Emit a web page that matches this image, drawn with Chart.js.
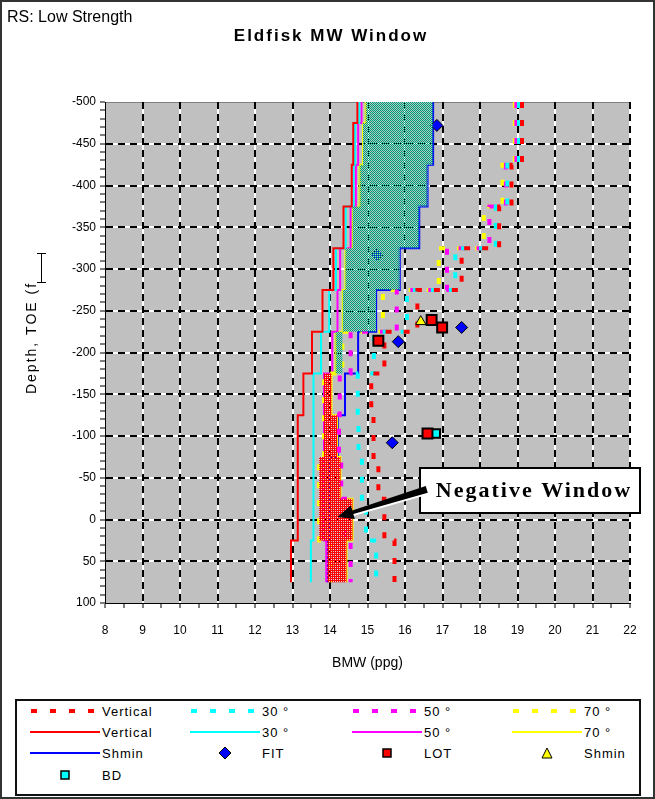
<!DOCTYPE html>
<html>
<head>
<meta charset="utf-8">
<script src="https://cdn.jsdelivr.net/npm/chart.js@4.4.1/dist/chart.umd.min.js"></script>
<style>
  html, body { margin: 0; padding: 0; background: #fff; }
  #wrap { position: relative; width: 655px; height: 799px; font-family: "Liberation Sans", Arial, sans-serif; }
  #frame { position: absolute; left: 0; top: 0; width: 655px; height: 799px; box-sizing: border-box; border: 2px solid #333; pointer-events: none; }
  #legend { position: absolute; left: 15px; top: 699px; width: 626px; height: 97px; box-sizing: border-box; border: 2px solid #111; background: #fff; }
  .item { position: absolute; height: 16px; display: flex; align-items: center; font-size: 13px; letter-spacing: 1px; color: #000; white-space: nowrap; }
  .item svg { margin-right: 2px; flex: none; }
</style>
</head>
<body>
<div id="wrap">
  <canvas id="mw-chart" width="655" height="799"></canvas>
  <div id="legend"></div>
  <div id="frame"></div>
</div>
<script>
const FONT = '"Liberation Sans", Arial, sans-serif';

// depth bands (ft TOE); every curve holds one value per band
const bandEdges = [-500, -475, -425, -375, -325, -275, -225, -175, -125, -75, -25, 25, 75];

// fracture gradients (dashed) per well inclination, ppg
const vertFrac  = [19.12, 19.12, 18.84, 18.51, 17.51, 16.33, 15.45, 15.10, 15.16, 15.29, 15.45, 15.72];
const deg30Frac = [19.04, 19.04, 18.73, 18.42, 17.34, 16.05, 15.17, 14.74, 14.76, 14.85, 14.96, 15.23];
const deg50Frac = [18.97, 18.97, 18.69, 18.25, 17.12, 15.78, 14.55, 14.26, 14.24, 14.30, 14.40, 14.55];
const deg70Frac = [18.93, 18.93, 18.60, 18.10, 16.90, 15.41, 14.33, 13.84, 13.84, 13.71, 13.71, 14.00];

// collapse gradients (solid) per well inclination, ppg
const vertCollapse  = [14.73, 14.62, 14.58, 14.36, 14.09, 13.80, 13.52, 13.29, 13.14, 13.14, 13.14, 12.96];
const deg30Collapse = [14.78, 14.67, 14.63, 14.42, 14.16, 13.98, 13.76, 13.56, 13.56, 13.56, 13.56, 13.49];
const deg50Collapse = [14.84, 14.75, 14.69, 14.55, 14.27, 14.20, 14.06, 13.84, 13.84, 13.84, 13.84, 13.90];
const deg70Collapse = [14.95, 14.88, 14.79, 14.60, 14.41, 14.34, 14.15, 14.04, 14.19, 14.28, 14.60, 14.44];

const shminCurve = [16.75, 16.75, 16.60, 16.38, 15.86, 15.23, 14.75, 14.40, 14.21, 14.00, 14.00, 13.93];

// field tests: x = EMW (ppg), y = depth
const fitX = [16.85, 15.25, 15.82, 17.51, 15.66];
const fitY = [-472, -317, -213, -230, -92];
const lotX = [15.29, 16.71, 16.99, 16.60];
const lotY = [-214, -239, -230, -103];
const shminTestX = [16.42];
const shminTestY = [-237];
const bdX = [16.82];
const bdY = [-103];

const xTicks = { min: 8, max: 22 };
const yTicks = { min: -500, max: 100 };

// callout arrow: tail (at the text box) and head, in chart units
const calloutTail = [16.58, -36];
const calloutHead = [14.2, -3];
const calloutText = "Negative Window";

function stepLine(vals) {
    const pts = [];
    vals.forEach((v, i) => pts.push({ x: v, y: bandEdges[i] }, { x: v, y: bandEdges[i + 1] }));
    return pts;
}

// closed outline between two step curves, only where hi > lo
function windowShape(lo, hi) {
    const idx = lo.map((_, i) => i).filter(i => hi[i] > lo[i]);
    const pts = [];
    idx.forEach(i => pts.push({ x: lo[i], y: bandEdges[i] }, { x: lo[i], y: bandEdges[i + 1] }));
    idx.slice().reverse().forEach(i => pts.push({ x: hi[i], y: bandEdges[i + 1] }, { x: hi[i], y: bandEdges[i] }));
    return pts;
}

function makePattern(cells) {
    const c = document.createElement("canvas");
    c.width = cells[0].length; c.height = cells.length;
    const g = c.getContext("2d");
    cells.forEach((row, j) => row.forEach((col, i) => {
        if (col) { g.fillStyle = col; g.fillRect(i, j, 1, 1); }
    }));
    return g.createPattern(c, "repeat");
}

const T = "#009a7a", M = "#8fd8c4";
const greenPattern = makePattern([[T, M], [null, T]]);
const R = "#ff0000", W = "#ffd0d0";
const redPattern = makePattern([
    [R, R, R, R],
    [R, W, R, null],
    [R, R, R, R],
    [R, null, R, W]
]);

// lowest fracture bound is Shmin or the 70 deg frac curve
const fracLow = shminCurve.map((v, i) => Math.min(v, deg70Frac[i]));

const lineSet = (label, vals, color, dashed) => ({
    label, data: stepLine(vals), borderColor: color, backgroundColor: color,
    borderWidth: dashed ? 4 : 2, borderDash: dashed ? [6, 12] : [], borderCapStyle: "butt",
    showLine: true, pointRadius: 0, fill: false, order: 2, inLegend: true, dashed
});

const markerSet = (label, xs, ys, style, color, radius, bw) => ({
    label, data: xs.map((x, i) => ({ x, y: ys[i] })), pointStyle: style, pointRadius: radius,
    pointBackgroundColor: color, pointBorderColor: "#000", pointBorderWidth: bw,
    backgroundColor: color, borderColor: "#000", showLine: false, order: 1, inLegend: true
});

const windowSet = (label, pts, pattern) => ({
    label, data: pts, showLine: true, borderWidth: 0, borderColor: "transparent",
    backgroundColor: pattern, fill: "shape", pointRadius: 0, order: 0, inLegend: false
});

const datasets = [
    lineSet("Vertical", vertFrac, "#ff0000", true),
    lineSet("30 °", deg30Frac, "#00ffff", true),
    lineSet("50 °", deg50Frac, "#ff00ff", true),
    lineSet("70 °", deg70Frac, "#ffff00", true),
    lineSet("Vertical", vertCollapse, "#ff0000", false),
    lineSet("30 °", deg30Collapse, "#00ffff", false),
    lineSet("50 °", deg50Collapse, "#ff00ff", false),
    lineSet("70 °", deg70Collapse, "#ffff00", false),
    lineSet("Shmin", shminCurve, "#0000ff", false),
    markerSet("FIT", fitX, fitY, "rectRot", "#0000ff", 6, 1),
    markerSet("LOT", lotX, lotY, "rect", "#ff0000", 7, 2),
    markerSet("Shmin", shminTestX, shminTestY, "triangle", "#ffff00", 6, 1),
    markerSet("BD", bdX, bdY, "rect", "#00ffff", 6, 2),
    windowSet("window", windowShape(deg70Collapse, fracLow), greenPattern),
    windowSet("negative", windowShape(fracLow, deg70Collapse), redPattern)
];

const decorations = {
    id: "decorations",
    beforeDraw(chart) {
        const { ctx, chartArea: a, scales: { x, y } } = chart;
        ctx.save();
        ctx.fillStyle = "#c0c0c0";
        ctx.fillRect(a.left, a.top, a.right - a.left, a.bottom - a.top);
        // white under the dashed grid so the gaps show white
        ctx.strokeStyle = "#fff";
        ctx.lineWidth = 2;
        ctx.beginPath();
        for (let v = xTicks.min + 1; v <= xTicks.max; v++) {
            const px = Math.round(x.getPixelForValue(v));
            ctx.moveTo(px, a.top); ctx.lineTo(px, a.bottom);
        }
        for (let v = yTicks.min + 50; v < yTicks.max; v += 50) {
            const py = Math.round(y.getPixelForValue(v));
            ctx.moveTo(a.left, py); ctx.lineTo(a.right, py);
        }
        ctx.stroke();
        ctx.strokeStyle = "#808080";
        ctx.lineWidth = 1;
        ctx.beginPath();
        ctx.moveTo(a.left, a.top + 0.5); ctx.lineTo(a.right, a.top + 0.5);
        ctx.stroke();
        ctx.restore();
    },
    afterDraw(chart) {
        const { ctx, scales: { x, y } } = chart;
        ctx.save();
        ctx.fillStyle = "#000";
        ctx.textBaseline = "alphabetic";

        ctx.font = "16px " + FONT;
        ctx.textAlign = "left";
        ctx.fillText("RS: Low Strength", 7, 22);

        ctx.font = "bold 17px " + FONT;
        ctx.letterSpacing = "2px";
        ctx.textAlign = "center";
        ctx.fillText("Eldfisk MW Window", 331, 41);

        ctx.save();
        ctx.translate(36, 338);
        ctx.rotate(-Math.PI / 2);
        ctx.font = "14px " + FONT;
        ctx.letterSpacing = "2px";
        ctx.fillText("Depth, TOE (f", 0, 0);
        ctx.restore();
        ctx.letterSpacing = "0px";

        // text cursor beside the axis title
        ctx.strokeStyle = "#000";
        ctx.lineWidth = 1;
        ctx.beginPath();
        ctx.moveTo(41.5, 253); ctx.lineTo(41.5, 283);
        ctx.moveTo(37, 253.5); ctx.lineTo(46, 253.5);
        ctx.moveTo(37, 282.5); ctx.lineTo(46, 282.5);
        ctx.stroke();

        // callout box and arrow
        const t = { x: x.getPixelForValue(calloutTail[0]), y: y.getPixelForValue(calloutTail[1]) };
        const h = { x: x.getPixelForValue(calloutHead[0]), y: y.getPixelForValue(calloutHead[1]) };
        const bx = Math.round(t.x) - 7, by = Math.round(t.y) - 21, bw = 220, bh = 45;
        ctx.fillStyle = "#fff";
        ctx.fillRect(bx, by, bw, bh);
        ctx.strokeStyle = "#000";
        ctx.lineWidth = 2;
        ctx.strokeRect(bx, by, bw, bh);
        ctx.fillStyle = "#000";
        ctx.font = "bold 22px \"Liberation Serif\", \"Times New Roman\", serif";
        ctx.letterSpacing = "2px";
        ctx.textAlign = "center";
        ctx.textBaseline = "middle";
        ctx.fillText(calloutText, bx + bw / 2 + 4, by + bh / 2 + 1);
        ctx.letterSpacing = "0px";

        const ang = Math.atan2(h.y - t.y, h.x - t.x);
        const cos = Math.cos(ang), sin = Math.sin(ang);
        const headLen = 16, headHalf = 7;
        const base = { x: h.x - headLen * cos, y: h.y - headLen * sin };
        const shaft = (p, w) => [{ x: p.x - w * sin, y: p.y + w * cos }, { x: p.x + w * sin, y: p.y - w * cos }];
        const [t1, t2] = shaft(t, 3.5), [b1, b2] = shaft(base, 1.8), [h1, h2] = shaft(base, headHalf);
        ctx.fillStyle = "#fff";
        ctx.beginPath();
        ctx.moveTo(t1.x, t1.y + 2); ctx.lineTo(b1.x, b1.y + 2); ctx.lineTo(b2.x, b2.y + 2); ctx.lineTo(t2.x, t2.y + 2);
        ctx.closePath(); ctx.fill();
        ctx.fillStyle = "#000";
        ctx.beginPath();
        ctx.moveTo(t1.x, t1.y); ctx.lineTo(b1.x, b1.y); ctx.lineTo(h1.x, h1.y); ctx.lineTo(h.x, h.y);
        ctx.lineTo(h2.x, h2.y); ctx.lineTo(b2.x, b2.y); ctx.lineTo(t2.x, t2.y);
        ctx.closePath(); ctx.fill();
        ctx.restore();
    }
};

const isMultiple = (v, step) => Math.abs(v / step - Math.round(v / step)) < 1e-6;

const chart = new Chart(document.getElementById("mw-chart").getContext("2d"), {
    type: "scatter",
    data: { datasets },
    options: {
        responsive: false,
        animation: false,
        events: [],
        layout: { padding: { left: 0, top: 102, right: 25, bottom: 116 } },
        plugins: { legend: { display: false }, title: { display: false }, tooltip: { enabled: false } },
        scales: {
            x: {
                type: "linear", min: xTicks.min, max: xTicks.max,
                afterFit: s => { s.height = 80; },
                ticks: {
                    stepSize: 0.5, autoSkip: false, maxRotation: 0, padding: 15, color: "#000",
                    font: { family: FONT, size: 12 },
                    callback: v => isMultiple(v, 1) ? String(v) : ""
                },
                grid: {
                    lineWidth: 2, tickLength: 5, tickWidth: 1, tickColor: "#000",
                    color: c => (c.tick && isMultiple(c.tick.value, 1) && c.tick.value > xTicks.min) ? "#000" : "transparent"
                },
                border: { display: true, color: "#000", width: 1, dash: [7, 5] },
                title: { display: true, text: "BMW (ppg)", color: "#000", font: { family: FONT, size: 14 }, padding: { top: 0, bottom: 11 } }
            },
            y: {
                type: "linear", min: yTicks.min, max: yTicks.max, reverse: true,
                afterFit: s => { s.width = 105; },
                ticks: {
                    stepSize: 10, autoSkip: false, padding: 4, color: "#000",
                    font: { family: FONT, size: 12 },
                    callback: v => isMultiple(v, 50) ? String(Math.round(v)) : ""
                },
                grid: {
                    lineWidth: 2, tickLength: 5, tickWidth: 1, tickColor: "#000",
                    color: c => (c.tick && isMultiple(c.tick.value, 50) && c.tick.value > yTicks.min && c.tick.value < yTicks.max) ? "#000" : "transparent"
                },
                border: { display: true, color: "#000", width: 1, dash: [7, 5] },
                title: { display: false }
            }
        }
    },
    plugins: [decorations]
});

// legend: four columns, built from the plotted series
const legendCols = [30, 190, 352, 512];
const legendRows = [711, 732, 753, 775];

function symbolSvg(d) {
    let inner;
    if (d.showLine) {
        const dash = d.dashed ? ' stroke-dasharray="6 13" stroke-dashoffset="-1"' : "";
        inner = `<line x1="0" y1="8" x2="70" y2="8" stroke="${d.borderColor}" stroke-width="${d.dashed ? 4 : 2}"${dash}/>`;
    } else if (d.pointStyle === "rectRot") {
        inner = `<polygon points="35,2 41,8 35,14 29,8" fill="${d.pointBackgroundColor}" stroke="#000" stroke-width="1"/>`;
    } else if (d.pointStyle === "triangle") {
        inner = `<polygon points="35,3 40,13 30,13" fill="${d.pointBackgroundColor}" stroke="#000" stroke-width="1"/>`;
    } else {
        inner = `<rect x="31" y="4" width="8" height="8" fill="${d.pointBackgroundColor}" stroke="#000" stroke-width="1.5"/>`;
    }
    return `<svg width="70" height="16">${inner}</svg>`;
}

const legendBox = document.getElementById("legend");
chart.data.datasets.filter(d => d.inLegend).forEach((d, k) => {
    const item = document.createElement("div");
    item.className = "item";
    item.style.left = (legendCols[k % 4] - 17) + "px";
    item.style.top = (legendRows[Math.floor(k / 4)] - 701 - 8) + "px";
    item.innerHTML = symbolSvg(d) + `<span>${d.label}</span>`;
    legendBox.appendChild(item);
});
</script>
</body>
</html>
